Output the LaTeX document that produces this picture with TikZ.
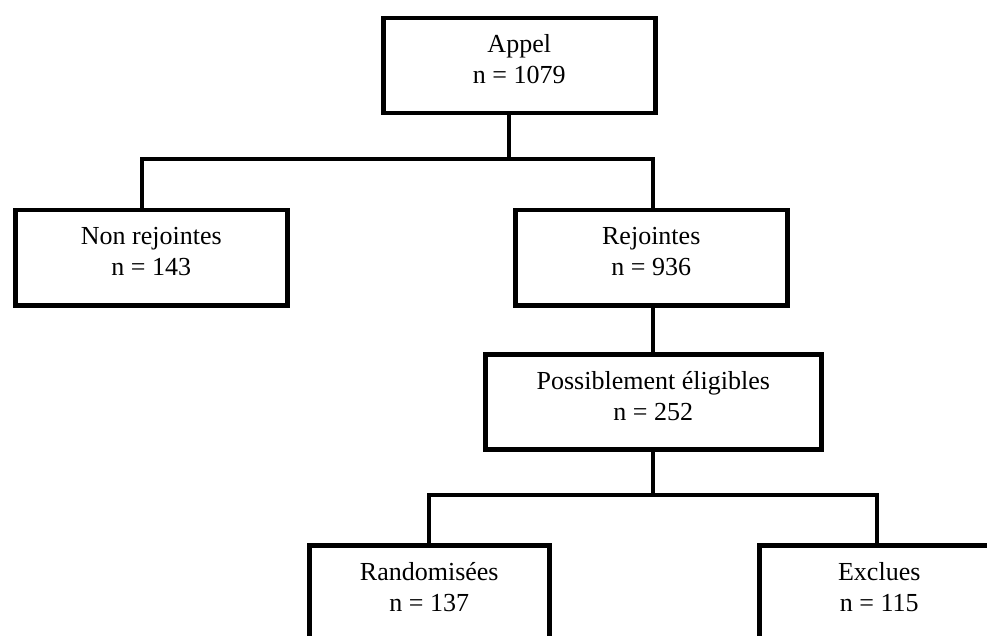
\documentclass[tikz,border=0pt]{standalone}
\usepackage{fontspec}
\setmainfont{Liberation Serif}
\begin{document}
\begin{tikzpicture}[x=1pt,y=-1pt,
  box/.style={draw=black, line width=4.5pt, rectangle, inner sep=0pt, anchor=north west, fill=white},
  txt/.style={anchor=base, inner sep=0pt, font=\fontsize{26}{31}\selectfont},
  conn/.style={draw=black, line width=4.5pt, line join=miter}]
\clip (0,0) rectangle (987,636);
\useasboundingbox (0,0) rectangle (987,636);
% boxes
\node[box, minimum width=272pt, minimum height=95pt] (appel) at (381,16) {};
\node[box, minimum width=272pt, minimum height=95pt] (nonrej) at (13,208) {};
\node[box, minimum width=272pt, minimum height=95pt] (rej) at (513,208) {};
\node[box, minimum width=336pt, minimum height=95pt] (poss) at (483,352) {};
\node[box, minimum width=240pt, minimum height=95pt] (rand) at (307,543) {};
\node[box, minimum width=240pt, minimum height=95pt] (excl) at (757,543) {};
% texts
\node[txt] (appelA) at ([yshift=-37pt]appel.north) {Appel};
\node[txt] (appelN) at ([yshift=-68pt]appel.north) {n = 1079};
\node[txt] (nonrejA) at ([yshift=-37pt]nonrej.north) {Non rejointes};
\node[txt] (nonrejN) at ([yshift=-68pt]nonrej.north) {n = 143};
\node[txt] (rejA) at ([yshift=-37pt]rej.north) {Rejointes};
\node[txt] (rejN) at ([yshift=-68pt]rej.north) {n = 936};
\node[txt] (possA) at ([yshift=-37pt]poss.north) {Possiblement éligibles};
\node[txt] (possN) at ([yshift=-68pt]poss.north) {n = 252};
\node[txt] (randA) at ([yshift=-37pt]rand.north) {Randomisées};
\node[txt] (randN) at ([yshift=-68pt]rand.north) {n = 137};
\node[txt] (exclA) at ([yshift=-37pt]excl.north) {Exclues};
\node[txt] (exclN) at ([yshift=-68pt]excl.north) {n = 115};
% junctions
\coordinate (j1) at (509,159);
\coordinate (j1l) at (142,159);
\coordinate (j1r) at (653,159);
\coordinate (j2) at (653,495);
\coordinate (j2l) at (429,495);
\coordinate (j2r) at (877,495);
% connectors
\draw[conn] (j1 |- appel.south) -- (j1);
\draw[conn] (j1l |- nonrej.north) -- (j1l) -- (j1r) -- (j1r |- rej.north);
\draw[conn] (j1r |- rej.south) -- (j1r |- poss.north);
\draw[conn] (j2 |- poss.south) -- (j2);
\draw[conn] (j2l |- rand.north) -- (j2l) -- (j2r) -- (j2r |- excl.north);
\end{tikzpicture}
\end{document}
